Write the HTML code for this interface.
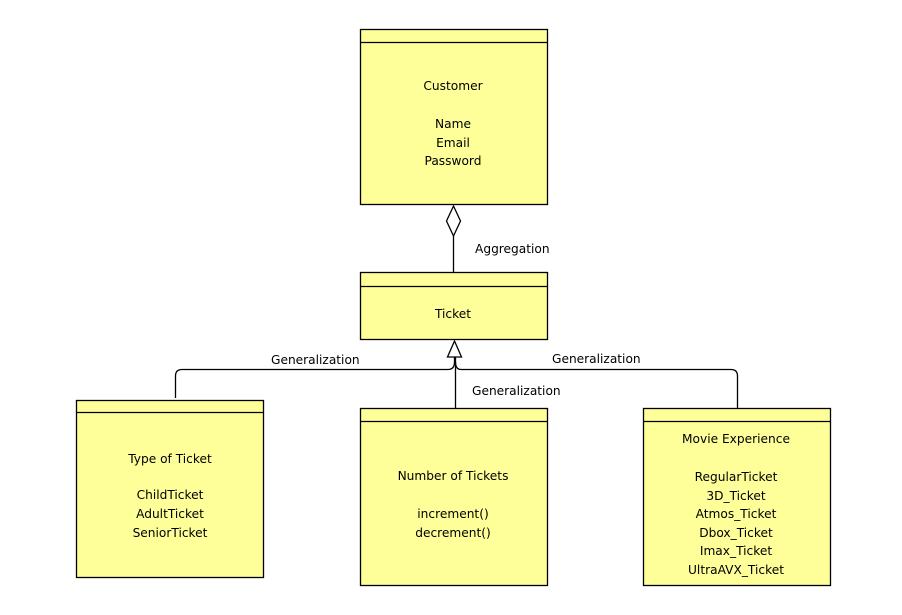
<!DOCTYPE html>
<html><head><style>
body{margin:0;background:#fff;width:902px;height:615px;overflow:hidden}
svg{display:block}
text{font-family:"DejaVu Sans",sans-serif;font-size:12.2px;fill:#000}
</style></head><body>
<svg width="902" height="615" xmlns="http://www.w3.org/2000/svg">
<g fill="#ffff99" stroke="#000" stroke-width="1.3">
<rect x="360.5" y="29.5" width="187" height="175"/><line x1="360" y1="42.5" x2="547" y2="42.5"/>
<rect x="360.5" y="272.5" width="187" height="67"/><line x1="360" y1="286.5" x2="547" y2="286.5"/>
<rect x="76.5" y="400.5" width="187" height="177"/><line x1="76" y1="412.5" x2="263" y2="412.5"/>
<rect x="360.5" y="408.5" width="187" height="177"/><line x1="360" y1="421.5" x2="547" y2="421.5"/>
<rect x="643.5" y="408.5" width="187" height="177"/><line x1="643" y1="421.5" x2="830" y2="421.5"/>
</g>
<g fill="none" stroke="#000" stroke-width="1.3">
<line x1="453.5" y1="236" x2="453.5" y2="272"/>
<path d="M453.5 206 L460.5 221 L453.5 236 L446.5 221 Z" fill="#fff"/>
<path d="M175.5 398 V376 Q175.5 369.5 182 369.5 H448 Q454.5 369.5 454.5 362 V357"/>
<path d="M737.5 408 V376 Q737.5 369.5 731 369.5 H461 Q455.5 369.5 455.5 362"/>
<line x1="455.5" y1="357" x2="455.5" y2="408"/>
<path d="M454.5 341 L461.5 357 L447.5 357 Z" fill="#fff"/>
</g>
<g text-anchor="middle">
<text x="453" y="90">Customer</text>
<text x="453" y="128">Name</text>
<text x="453" y="147">Email</text>
<text x="453" y="165">Password</text>
<text x="453" y="318">Ticket</text>
<text x="170" y="463">Type of Ticket</text>
<text x="170" y="499">ChildTicket</text>
<text x="170" y="518">AdultTicket</text>
<text x="170" y="537">SeniorTicket</text>
<text x="453" y="480">Number of Tickets</text>
<text x="453" y="518">increment()</text>
<text x="453" y="537">decrement()</text>
<text x="736" y="443">Movie Experience</text>
<text x="736" y="481">RegularTicket</text>
<text x="736" y="500">3D_Ticket</text>
<text x="736" y="518">Atmos_Ticket</text>
<text x="736" y="537">Dbox_Ticket</text>
<text x="736" y="555">Imax_Ticket</text>
<text x="736" y="574">UltraAVX_Ticket</text>
</g>
<text x="475" y="253">Aggregation</text>
<text x="271" y="364">Generalization</text>
<text x="552" y="363">Generalization</text>
<text x="472" y="395">Generalization</text>
</svg>
</body></html>
